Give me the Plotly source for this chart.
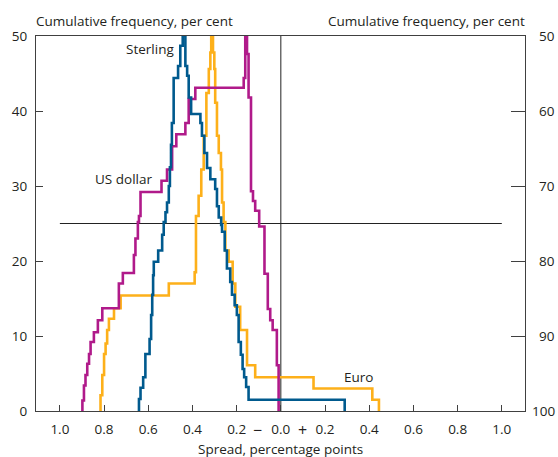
import plotly.graph_objects as go

# Folded cumulative distributions of spreads (percentage points).
# Left half: cumulative frequency rising to the median (50%);
# right half: read on the right-hand axis (100 minus cumulative frequency).
# Each pair is (spread at which the step occurs, level after the step).

sterling_spread = [-0.642, -0.642, -0.635, -0.623, -0.613, -0.594, -0.587, -0.582, -0.578,
                   -0.575, -0.555, -0.537, -0.530, -0.522, -0.515, -0.507, -0.502, -0.497,
                   -0.493, -0.485, -0.465, -0.455, -0.444,
                   -0.432, -0.424, -0.417, -0.406, -0.364, -0.357, -0.346, -0.334, -0.319,
                   -0.297, -0.289, -0.281, -0.270, -0.266, -0.254, -0.244, -0.229, -0.221,
                   -0.209, -0.199, -0.191, -0.181, -0.173, -0.166, -0.157, -0.146, 0.289]
sterling_freq = [0.0, 1.6, 3.1, 4.5, 7.6, 9.6, 12.8, 15.5, 18.1,
                 19.9, 21.4, 23.5, 25.2, 26.5, 27.8, 30.0, 32.5, 35.5,
                 38.4, 44.4, 46.0, 48.7, 50.0,
                 46.0, 44.7, 41.8, 39.6, 38.4, 36.7, 34.4, 32.4, 30.9,
                 29.6, 27.3, 25.8, 24.8, 23.9, 21.4, 19.0, 17.2, 15.5,
                 14.1, 12.8, 9.2, 7.5, 5.6, 4.5, 3.2, 1.5, 0.0]

usd_spread = [-0.898, -0.898, -0.891, -0.884, -0.876, -0.868, -0.861, -0.846, -0.828,
              -0.808, -0.733, -0.715, -0.665, -0.658, -0.647, -0.642, -0.635, -0.540,
              -0.515, -0.492, -0.473, -0.432, -0.417, -0.387, -0.168, -0.161,
              -0.153, -0.146, -0.135, -0.126, -0.116, -0.098, -0.074, -0.059, -0.048,
              -0.037, -0.018, -0.010]
usd_freq = [0.0, 1.4, 3.4, 4.8, 6.3, 7.6, 9.2, 10.5, 12.1,
            13.7, 17.0, 18.4, 20.8, 23.0, 25.2, 26.0, 29.2, 30.7,
            32.2, 35.3, 36.9, 38.4, 41.6, 43.1, 44.4, 50.0,
            47.6, 41.8, 29.3, 28.0, 26.7, 24.6, 18.3, 13.6, 12.1,
            10.8, 6.1, 0.0]

euro_spread = [-0.816, -0.816, -0.808, -0.800, -0.793, -0.786, -0.778, -0.755, -0.725,
               -0.507, -0.390, -0.384, -0.372, -0.360, -0.349, -0.337, -0.326, -0.319,
               -0.315,
               -0.307, -0.301, -0.297, -0.289, -0.281, -0.271, -0.266, -0.259, -0.251,
               -0.236, -0.218, -0.206, -0.184, -0.153, -0.116, 0.148, 0.414, 0.444]
euro_freq = [0.0, 2.1, 4.8, 7.6, 9.0, 10.8, 12.3, 13.7, 15.4,
             17.0, 18.5, 26.0, 28.7, 32.2, 36.7, 42.4, 45.6, 47.8,
             50.0,
             47.8, 45.6, 41.1, 36.7, 34.4, 32.2, 27.8, 25.2, 21.4,
             19.9, 17.0, 13.9, 10.8, 6.1, 4.5, 3.0, 1.5, 0.0]

x_tick_values = [-1.0, -0.8, -0.6, -0.4, -0.2, 0.0, 0.2, 0.4, 0.6, 0.8, 1.0]
x_tick_labels = ["1.0", "0.8", "0.6", "0.4", "0.2", "0.0", "0.2", "0.4", "0.6", "0.8", "1.0"]
left_ticks = [0, 10, 20, 30, 40, 50]
right_ticks = [50, 60, 70, 80, 90, 100]

series = [
    ("Euro", euro_spread, euro_freq, "#fdb01a"),
    ("US dollar", usd_spread, usd_freq, "#b01a8a"),
    ("Sterling", sterling_spread, sterling_freq, "#005a8e"),
]
labels = {"Sterling": (-0.59, 48.3),
          "US dollar": (-0.71, 30.9),
          "Euro": (0.35, 4.6)}

FONT = "Open Sans"
TXT = "#231f20"
AX = "#404040"

fig = go.Figure()
for name, xs, ys, color in series:
    fig.add_trace(go.Scatter(x=xs, y=ys, mode="lines", name=name,
                             line=dict(color=color, width=2.6, shape="hv"),
                             showlegend=False, hoverinfo="skip"))
# dummy trace so the right-hand axis is drawn
fig.add_trace(go.Scatter(x=[None], y=[None], yaxis="y2", showlegend=False, hoverinfo="skip"))

fig.update_layout(
    width=558, height=457,
    margin=dict(l=33, r=33, t=36, b=46),
    paper_bgcolor="white", plot_bgcolor="white",
    font=dict(family=FONT, size=13.5, color=TXT),
    xaxis=dict(range=[-1.108, 1.105], tickvals=x_tick_values, ticktext=x_tick_labels,
               ticks="inside", ticklen=6, tickcolor=AX, showline=True, linecolor=AX,
               linewidth=1, mirror=True, showgrid=False, zeroline=False,
               ticklabelstandoff=6),
    yaxis=dict(range=[0, 50], tickvals=left_ticks, ticks="inside", ticklen=7,
               tickcolor=AX, showline=True, linecolor=AX, linewidth=1,
               showgrid=False, zeroline=False, ticklabelstandoff=5),
    yaxis2=dict(range=[100, 50], tickvals=right_ticks, overlaying="y", side="right",
                ticks="inside", ticklen=14, tickcolor=AX, showline=True, linecolor=AX,
                linewidth=1, showgrid=False, zeroline=False, showticklabels=False),
)

# median / zero reference lines
fig.add_shape(type="line", xref="x", yref="y", x0=-1, x1=1, y0=25, y1=25,
              line=dict(color="#222222", width=1), layer="below")
fig.add_shape(type="line", xref="x", yref="y", x0=0, x1=0, y0=0, y1=50,
              line=dict(color="#222222", width=1), layer="below")

# right-hand axis labels, right-aligned at the figure edge
for v in right_ticks:
    fig.add_annotation(text=str(v), xref="paper", x=1, xanchor="right", xshift=32,
                       yref="y2", y=v, yanchor="middle", showarrow=False,
                       font=dict(size=13.5, color=TXT))

# axis titles
fig.add_annotation(text="Cumulative frequency, per cent", xref="paper", x=0, xanchor="left",
                   xshift=-2, yref="paper", y=1, yanchor="middle", yshift=15,
                   showarrow=False, font=dict(size=13.5, color=TXT))
fig.add_annotation(text="Cumulative frequency, per cent", xref="paper", x=1, xanchor="right",
                   xshift=2, yref="paper", y=1, yanchor="middle", yshift=15,
                   showarrow=False, font=dict(size=13.5, color=TXT))
fig.add_annotation(text="Spread, percentage points", xref="paper", x=0.5, xanchor="center",
                   yref="paper", y=0, yanchor="middle", yshift=-38,
                   showarrow=False, font=dict(size=13.5, color=TXT))

# sign markers either side of zero on the spread axis
for xv, sym in [(-0.105, "\u2212"), (0.1, "+")]:
    fig.add_annotation(text=sym, xref="x", x=xv, yref="paper", y=0, yanchor="middle",
                       yshift=-19, showarrow=False, font=dict(size=16, color=TXT))

# series names
for name, (lx, ly) in labels.items():
    fig.add_annotation(text=name, xref="x", x=lx, yref="y", y=ly, xanchor="center",
                       yanchor="middle", showarrow=False, font=dict(size=13.5, color=TXT))

fig.write_html("out.html")
